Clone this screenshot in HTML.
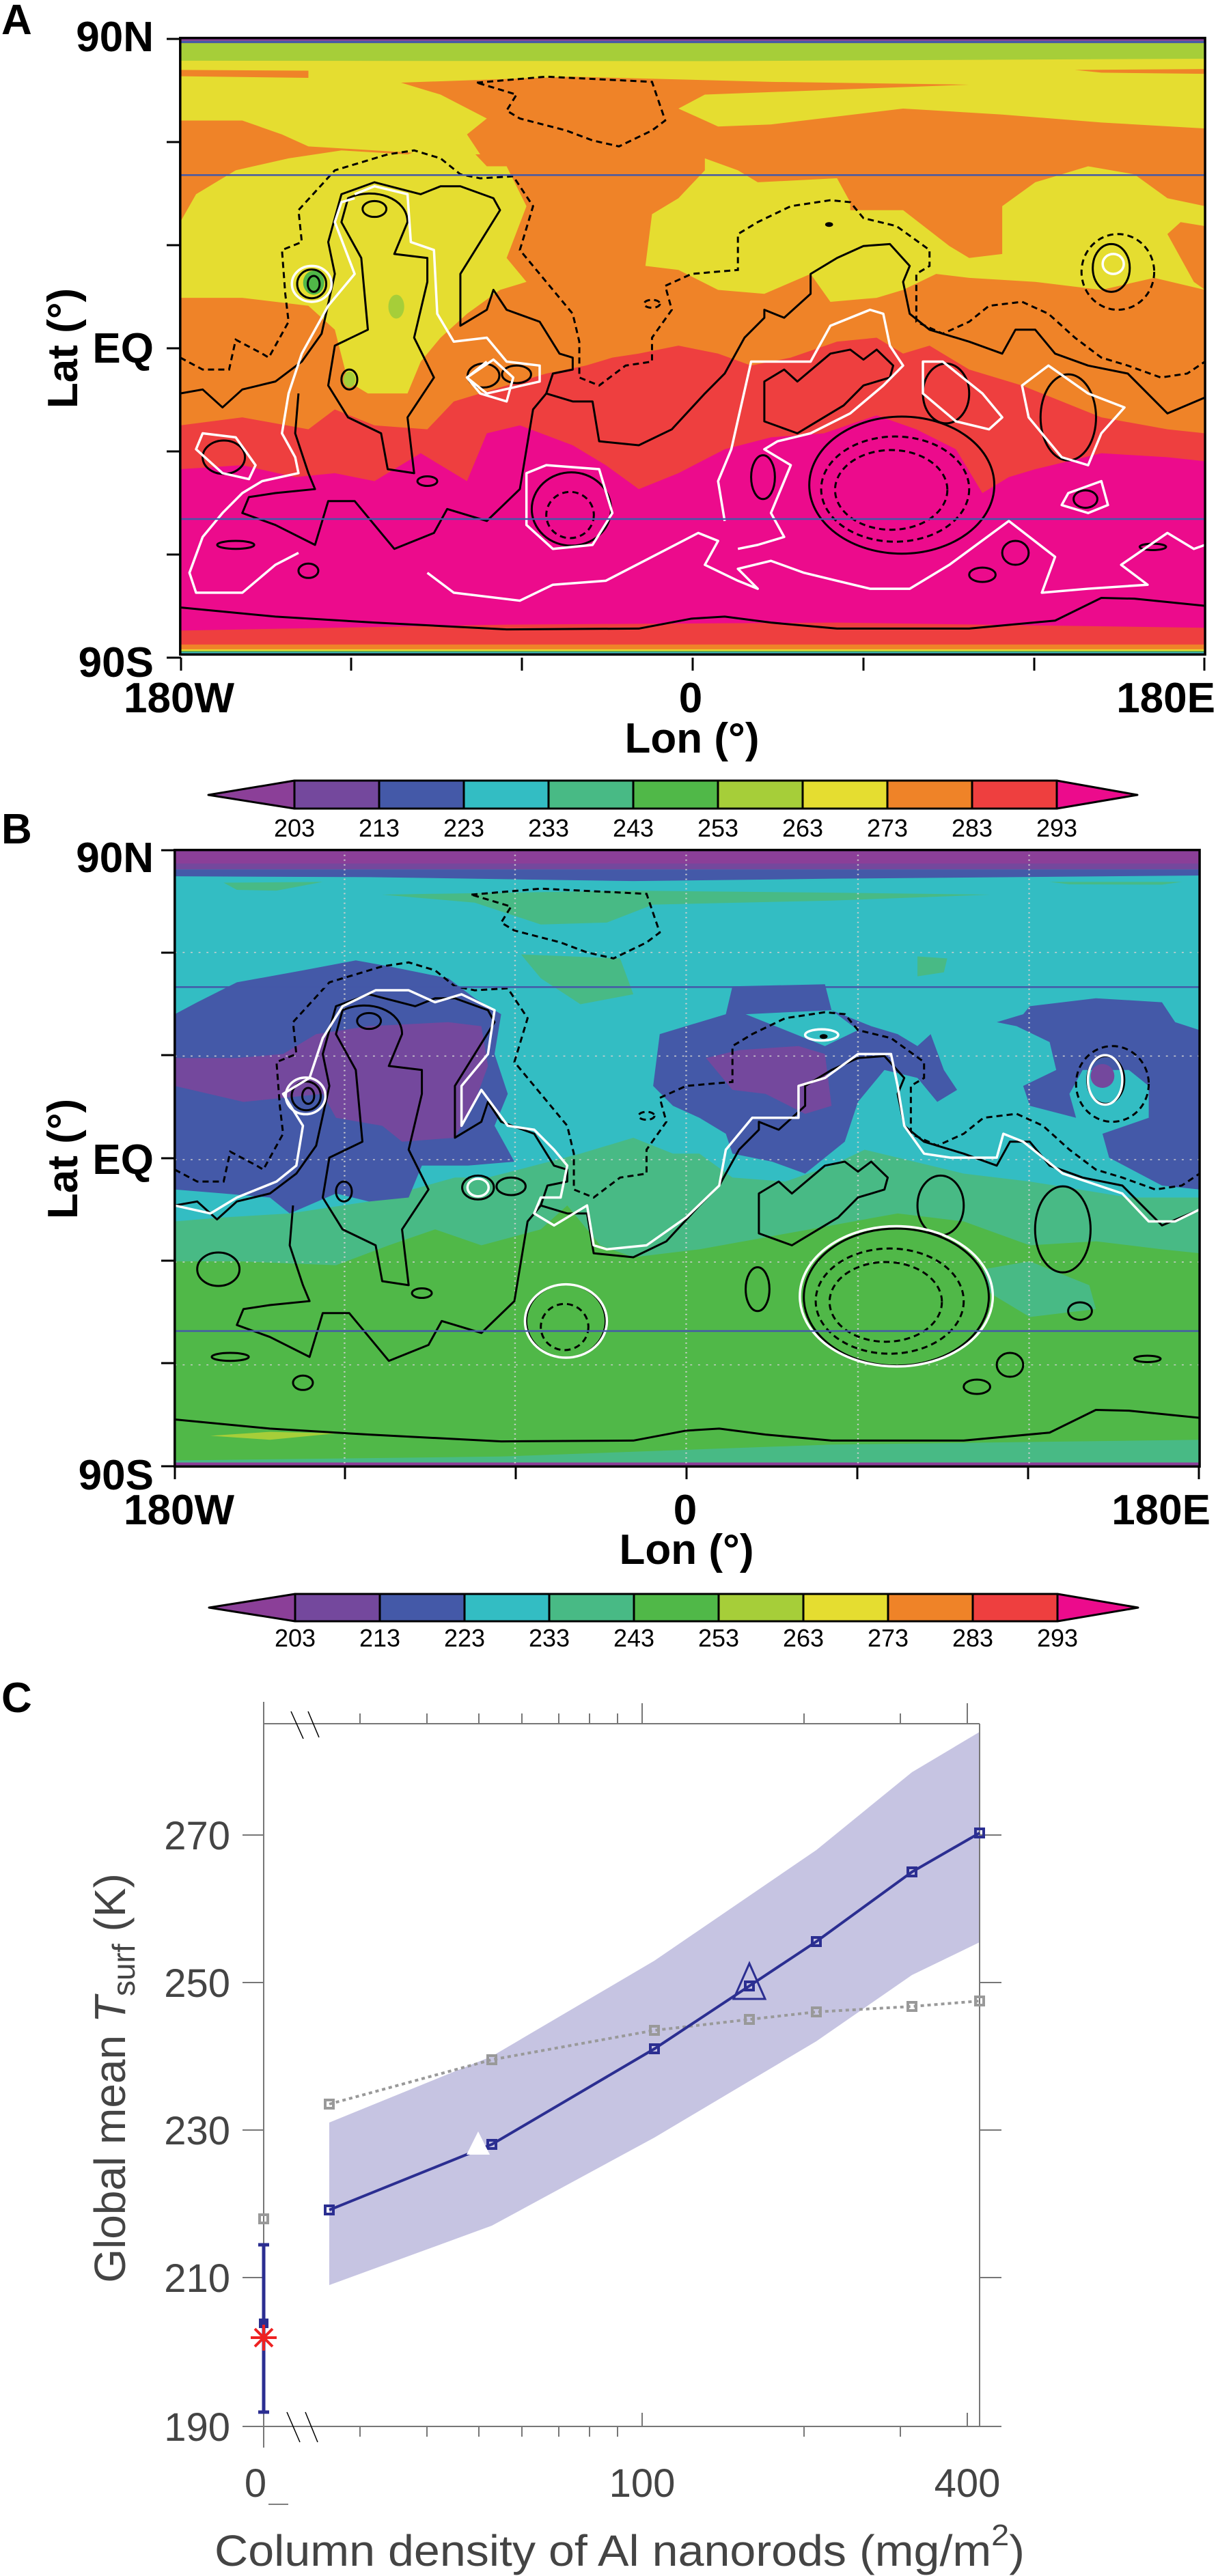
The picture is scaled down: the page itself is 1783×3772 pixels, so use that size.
<!DOCTYPE html>
<html><head><meta charset="utf-8"><style>
html,body{margin:0;padding:0;background:#fff;}
svg{display:block;}
.lbl{font-family:"Liberation Sans",sans-serif;font-weight:bold;fill:#000;}
.cb{font-family:"Liberation Sans",sans-serif;font-size:36px;fill:#000;}
.ax{font-family:"Liberation Sans",sans-serif;fill:#444;}
.k{fill:none;stroke:#000;stroke-width:3;vector-effect:non-scaling-stroke;stroke-linejoin:round;}
.kd{fill:none;stroke:#000;stroke-width:3;stroke-dasharray:9 6;vector-effect:non-scaling-stroke;}
.w{fill:none;stroke:#fff;stroke-width:3.5;vector-effect:non-scaling-stroke;stroke-linejoin:round;}
.lat{stroke:#4459A8;stroke-width:2.5;vector-effect:non-scaling-stroke;}
.grid{stroke:#d0d0d0;stroke-width:2.5;stroke-dasharray:3 9;vector-effect:non-scaling-stroke;}
.fr{fill:none;stroke:#000;stroke-width:3.5;vector-effect:non-scaling-stroke;}
</style></head><body>
<svg width="1783" height="3772" viewBox="0 0 1783 3772" xmlns="http://www.w3.org/2000/svg">
<defs>
<g id="topo">
<path class="k" d="M6,1437 L150,1460 300,1475 500,1492 700,1490 780,1465 830,1460 900,1475 1000,1490 1200,1490 1330,1470 1400,1413 1450,1415 1557,1433"/>
<path class="k" d="M6,900 L40,890 70,935 100,890 150,870 190,820 220,750 240,600 230,520 250,400 300,370 370,400 400,380 430,380 480,410 490,440 460,520 430,600 430,730 470,690 480,640 500,690 550,720 580,800 600,810 600,840 570,850 560,900 600,920 630,920 640,1020 700,1030 750,990 800,900 830,850 860,760 890,710 890,690 920,710 960,650 960,600 1000,560 1040,530 1080,525 1110,580 1100,620 1110,700 1140,740 1200,770 1250,800 1270,740 1300,740 1330,800 1380,830 1440,850 1500,950 1557,910"/>
<path class="k" d="M260,410 C300,380 350,410 350,470 L330,550 380,560 380,620 360,760 390,860 350,960 360,1100 320,1090 310,1000 260,960 230,880 240,780 290,740 280,560 250,470 Z"/>
<path class="k" d="M185,900 L180,1000 200,1100 210,1140 150,1150 110,1160 100,1200 150,1230 210,1280 230,1170 270,1170 330,1290 390,1250 410,1190 470,1220 520,1140 530,1040 540,940 560,900"/>
<path class="k" d="M890,870 L920,840 940,870 990,800 1020,790 1040,815 1060,790 1085,830 1080,860 1040,880 1010,930 960,980 940,1000 890,970 Z"/>
<ellipse class="k" cx="300" cy="437" rx="18" ry="20"/>
<ellipse class="k" cx="205" cy="625" rx="22" ry="36"/>
<ellipse class="k" cx="208" cy="625" rx="9" ry="20"/>
<ellipse class="k" cx="262" cy="865" rx="12" ry="25"/>
<ellipse class="k" cx="380" cy="1120" rx="15" ry="12"/>
<ellipse class="k" cx="90" cy="1280" rx="28" ry="10"/>
<ellipse class="k" cx="200" cy="1345" rx="15" ry="18"/>
<ellipse class="k" cx="72" cy="1060" rx="32" ry="42"/>
<ellipse class="k" cx="465" cy="855" rx="24" ry="30"/>
<ellipse class="k" cx="515" cy="852" rx="22" ry="22"/>
<ellipse class="k" cx="1098" cy="1130" rx="140" ry="172"/>
<ellipse class="kd" cx="1088" cy="1140" rx="112" ry="132"/>
<ellipse class="kd" cx="1082" cy="1142" rx="85" ry="100"/>
<ellipse class="k" cx="598" cy="1190" rx="60" ry="92"/>
<ellipse class="kd" cx="596" cy="1205" rx="36" ry="58"/>
<ellipse class="k" cx="888" cy="1110" rx="18" ry="55"/>
<ellipse class="k" cx="1165" cy="900" rx="35" ry="75"/>
<ellipse class="k" cx="1350" cy="960" rx="42" ry="108"/>
<ellipse class="k" cx="1376" cy="1165" rx="18" ry="22"/>
<ellipse class="k" cx="1270" cy="1300" rx="20" ry="30"/>
<ellipse class="k" cx="1220" cy="1355" rx="20" ry="18"/>
<ellipse class="k" cx="1478" cy="1285" rx="20" ry="8"/>
<ellipse class="k" cx="1415" cy="585" rx="28" ry="60"/>
<ellipse class="kd" cx="1425" cy="595" rx="55" ry="95"/>
<ellipse class="kd" cx="720" cy="675" rx="12" ry="10"/>
<ellipse cx="988" cy="476" rx="6" ry="6" fill="#000"/>
<path class="kd" d="M455,120 L560,105 720,118 740,215 720,240 670,280 630,265 590,240 520,210 500,190 515,150 Z"/>
<path class="kd" d="M6,810 L40,840 80,840 90,765 130,800 140,810 170,720 165,650 160,540 190,520 185,440 240,340 320,300 360,290 400,310 430,350 460,360 510,355 540,430 520,540 550,600 580,660 600,700 610,770 610,860 640,880 680,830 720,820 720,760 750,690 740,630 780,600 850,590 850,500 880,470 930,430 990,415 1020,420 1040,460 1090,480 1140,540 1140,580 1120,600 1120,720 1160,750 1200,720 1230,680 1280,670 1320,700 1360,760 1400,810 1440,830 1490,860 1530,850 1557,820"/>
</g>
</defs>

<!-- ================= PANEL A ================= -->
<text class="lbl" x="2" y="50" font-size="62">A</text>
<text class="lbl" x="225" y="75" font-size="62" text-anchor="end">90N</text>
<text class="lbl" x="225" y="531" font-size="62" text-anchor="end">EQ</text>
<text class="lbl" x="225" y="991" font-size="62" text-anchor="end">90S</text>
<text class="lbl" font-size="62" text-anchor="middle" transform="translate(113,510) rotate(-90)">Lat (°)</text>
<text class="lbl" x="262" y="1043" font-size="62" text-anchor="middle">180W</text>
<text class="lbl" x="1011" y="1043" font-size="62" text-anchor="middle">0</text>
<text class="lbl" x="1779" y="1043" font-size="62" text-anchor="end">180E</text>
<text class="lbl" x="1013" y="1102" font-size="62" text-anchor="middle">Lon (°)</text>
<g stroke="#000" stroke-width="3">
<line x1="244" y1="57" x2="265" y2="57"/><line x1="244" y1="208" x2="265" y2="208"/><line x1="244" y1="359" x2="265" y2="359"/><line x1="244" y1="510" x2="265" y2="510"/><line x1="244" y1="661" x2="265" y2="661"/><line x1="244" y1="812" x2="265" y2="812"/><line x1="244" y1="963" x2="265" y2="963"/>
<line x1="265" y1="963" x2="265" y2="982"/><line x1="514" y1="963" x2="514" y2="982"/><line x1="764" y1="963" x2="764" y2="982"/><line x1="1014" y1="963" x2="1014" y2="982"/><line x1="1264" y1="963" x2="1264" y2="982"/><line x1="1514" y1="963" x2="1514" y2="982"/><line x1="1763" y1="963" x2="1763" y2="982"/>
</g>
<g transform="translate(258,51) scale(0.9673,0.5835)">
<rect x="6" y="8" width="1551" height="1547" fill="#EC0B8C"/>
<path fill="#EE3F3F" d="M6,8 H1557 V1070 L1500,1060 1400,1050 1300,1090 1260,1110 1220,1150 1180,1040 1120,990 1060,955 980,1000 900,1010 830,1040 760,1100 700,1140 650,1080 600,1030 520,980 470,1000 440,1120 370,1050 300,1120 240,1100 180,1110 100,1080 6,1090 Z"/>
<path fill="#EF8328" d="M6,8 H1557 V1000 L1500,990 1400,960 1280,880 1200,840 1140,780 1100,800 1060,760 1000,770 930,810 870,830 820,800 760,780 700,800 660,810 620,830 560,850 500,880 420,920 380,990 300,980 240,940 200,990 100,960 6,980 Z"/>
<path fill="#E5DD30" d="M6,60 L1557,60 1557,235 1400,220 1250,200 1100,185 900,225 820,230 760,185 800,150 1200,125 900,118 600,105 340,120 400,150 470,210 440,250 460,300 400,300 300,290 200,280 160,250 100,215 6,215 Z"/>
<path fill="#EF8328" d="M6,88 L200,90 200,108 6,104 Z M1360,88 L1557,86 1557,98 1400,95 Z"/>
<path fill="#E5DD30" d="M6,470 L30,400 90,340 170,310 250,290 350,300 430,260 470,330 500,330 530,430 500,560 530,620 490,640 440,700 400,760 370,820 350,900 290,900 260,870 240,740 200,680 100,660 6,660 Z"/>
<path fill="#E5DD30" d="M710,580 L720,450 760,410 800,340 800,310 850,340 880,370 1000,360 1020,420 1020,440 1100,440 1170,530 1200,560 1250,550 1250,430 1300,370 1380,330 1450,350 1500,410 1557,430 1557,480 1520,470 1500,500 1540,620 1557,640 1480,610 1400,640 1300,620 1200,610 1150,600 1100,640 1060,660 990,670 960,600 890,650 820,640 760,590 Z"/>
<rect x="6" y="8" width="1551" height="7" fill="#8B3F98"/>
<rect x="6" y="15" width="1551" height="6" fill="#4459A8"/>
<path fill="#A6CE39" d="M6,21 H1557 V60 L800,66 6,65 Z"/>
<path fill="#EE3F3F" d="M6,1495 L500,1480 1000,1475 1557,1488 V1548 H6 Z"/>
<rect x="6" y="1530" width="1551" height="12" fill="#EF8328"/>
<rect x="6" y="1542" width="1551" height="4" fill="#E5DD30"/>
<rect x="6" y="1546" width="1551" height="3" fill="#50B848"/>
<rect x="6" y="1549" width="1551" height="3" fill="#33BDC3"/>
<rect x="6" y="1552" width="1551" height="3" fill="#8B3F98"/>
<ellipse cx="208" cy="622" rx="16" ry="30" fill="#50B848"/>
<ellipse cx="333" cy="682" rx="12" ry="30" fill="#A6CE39"/>
<ellipse cx="262" cy="865" rx="9" ry="20" fill="#A6CE39"/>
<use href="#topo"/>
<ellipse class="w" cx="205" cy="625" rx="30" ry="45"/>
<ellipse class="w" cx="1418" cy="575" rx="16" ry="25"/>
<path class="w" d="M270,410 L250,420 240,470 270,600 230,680 210,740 190,800 170,900 160,1000 180,1060 185,1100 130,1120 100,1150 70,1200 40,1260 20,1350 30,1400 100,1400 150,1330 185,1300"/>
<path class="w" d="M270,400 L300,380 350,400 355,520 390,540 395,700 420,770 470,760 500,820 550,830 550,870 510,885 470,900 440,860 470,820"/>
<path class="w" d="M830,1220 L820,1120 840,1040 870,820 960,820 990,730 1050,690 1070,700 1080,780 1100,830 1070,880 1020,950 960,1000 910,1020 890,1040 930,1080 900,1200 920,1260 880,1280 850,1290"/>
<path class="w" d="M380,1350 L420,1400 520,1420 570,1380 650,1370 720,1310 790,1250 820,1270 800,1330 850,1370 880,1390 850,1340 900,1320 950,1350 1000,1370 1050,1390 1110,1390 1170,1330 1260,1220 1330,1310 1310,1400 1380,1390 1470,1380 1430,1330 1500,1250 1540,1290 1557,1280"/>
<path class="w" d="M1130,820 L1160,820 1220,900 1250,960 1230,990 1180,970 1130,900 Z"/>
<path class="w" d="M1280,880 L1320,830 1380,900 1435,935 1400,1000 1380,1080 1340,1060 1290,960 Z"/>
<path class="w" d="M440,860 L480,815 510,860 500,920 460,900 Z"/>
<path class="w" d="M40,1000 L90,1010 120,1080 110,1115 70,1100 30,1040 Z"/>
<path class="w" d="M1350,1150 L1400,1120 1410,1180 1380,1200 1340,1180 Z"/>
<path class="w" d="M530,1100 L560,1080 640,1090 660,1200 630,1280 570,1290 530,1230 Z"/>
<line class="lat" x1="6" y1="352" x2="1557" y2="352"/>
<line class="lat" x1="6" y1="1215" x2="1557" y2="1215"/>
<rect class="fr" x="6" y="8" width="1551" height="1547"/>
</g>

<!-- colorbar 1 -->
<g stroke="#000" stroke-width="3" stroke-linejoin="round">
<polygon points="431,1143 305,1164 431,1184" fill="#8B3F98"/>
<rect x="431" y="1143" width="124" height="41" fill="#74489D"/>
<rect x="555" y="1143" width="124" height="41" fill="#4459A8"/>
<rect x="679" y="1143" width="124" height="41" fill="#33BDC3"/>
<rect x="803" y="1143" width="124" height="41" fill="#48BA85"/>
<rect x="927" y="1143" width="124" height="41" fill="#50B848"/>
<rect x="1051" y="1143" width="124" height="41" fill="#A6CE39"/>
<rect x="1175" y="1143" width="124" height="41" fill="#E5DD30"/>
<rect x="1299" y="1143" width="124" height="41" fill="#EF8328"/>
<rect x="1423" y="1143" width="124" height="41" fill="#EE3F3F"/>
<polygon points="1547,1143 1665,1164 1547,1184" fill="#EC0B8C"/>
</g>
<g class="cb" text-anchor="middle">
<text x="431" y="1225">203</text><text x="555" y="1225">213</text><text x="679" y="1225">223</text><text x="803" y="1225">233</text><text x="927" y="1225">243</text><text x="1051" y="1225">253</text><text x="1175" y="1225">263</text><text x="1299" y="1225">273</text><text x="1423" y="1225">283</text><text x="1547" y="1225">293</text>
</g>

<!-- ================= PANEL B ================= -->
<text class="lbl" x="2" y="1235" font-size="62">B</text>
<text class="lbl" x="225" y="1277" font-size="62" text-anchor="end">90N</text>
<text class="lbl" x="225" y="1719" font-size="62" text-anchor="end">EQ</text>
<text class="lbl" x="225" y="2181" font-size="62" text-anchor="end">90S</text>
<text class="lbl" font-size="62" text-anchor="middle" transform="translate(113,1697) rotate(-90)">Lat (°)</text>
<text class="lbl" x="262" y="2232" font-size="62" text-anchor="middle">180W</text>
<text class="lbl" x="1003" y="2232" font-size="62" text-anchor="middle">0</text>
<text class="lbl" x="1772" y="2232" font-size="62" text-anchor="end">180E</text>
<text class="lbl" x="1005" y="2290" font-size="62" text-anchor="middle">Lon (°)</text>
<g stroke="#000" stroke-width="3">
<line x1="236" y1="1245" x2="257" y2="1245"/><line x1="236" y1="1395" x2="257" y2="1395"/><line x1="236" y1="1545" x2="257" y2="1545"/><line x1="236" y1="1696" x2="257" y2="1696"/><line x1="236" y1="1846" x2="257" y2="1846"/><line x1="236" y1="1996" x2="257" y2="1996"/><line x1="236" y1="2147" x2="257" y2="2147"/>
<line x1="256" y1="2147" x2="256" y2="2166"/><line x1="505" y1="2147" x2="505" y2="2166"/><line x1="755" y1="2147" x2="755" y2="2166"/><line x1="1005" y1="2147" x2="1005" y2="2166"/><line x1="1255" y1="2147" x2="1255" y2="2166"/><line x1="1505" y1="2147" x2="1505" y2="2166"/><line x1="1755" y1="2147" x2="1755" y2="2166"/>
</g>
<g transform="translate(250,1240) scale(0.9673,0.5835)">
<rect x="6" y="8" width="1551" height="1547" fill="#50B848"/>
<path fill="#48BA85" d="M6,8 H1557 V1020 L1500,1010 1400,990 1300,1000 1200,940 1100,920 1000,950 900,980 800,1010 700,1030 650,1000 600,900 560,960 470,1000 400,960 330,1000 250,1050 100,1040 6,1040 Z"/>
<path fill="#33BDC3" d="M6,8 H1557 V880 L1450,880 1300,840 1200,820 1100,780 1050,760 1000,800 930,840 850,830 800,770 760,770 700,730 620,770 550,800 480,830 430,830 300,890 180,920 80,930 6,940 Z"/>
<path fill="#4459A8" d="M6,420 L40,390 100,340 200,310 280,285 330,300 420,330 460,380 500,420 490,520 510,620 490,700 520,790 450,800 380,800 360,880 300,890 250,870 180,920 150,880 80,870 6,860 Z"/>
<path fill="#4459A8" d="M730,600 L740,470 840,420 850,350 990,345 1000,410 1060,450 1100,470 1130,500 1150,470 1170,560 1190,610 1160,640 1130,580 1080,560 1040,640 1020,740 960,820 910,790 850,770 840,720 800,680 760,650 Z"/>
<path fill="#4459A8" d="M1250,440 L1290,420 1300,400 1400,380 1500,390 1520,440 1557,460 1557,860 1500,850 1420,780 1410,720 1480,680 1480,600 1450,560 1380,560 1360,620 1370,680 1300,650 1290,600 1340,560 1330,490 1280,450 Z"/>
<path fill="#33BDC3" d="M870,420 L1000,410 1040,460 990,500 900,440 Z"/>
<path fill="#74489D" d="M6,530 L100,530 170,520 220,470 300,450 420,440 470,450 480,550 460,640 430,730 350,740 320,700 250,680 230,620 110,640 6,600 Z"/>
<path fill="#74489D" d="M810,530 L860,510 950,500 990,520 1000,650 960,670 900,620 850,610 Z"/>
<ellipse cx="1410" cy="575" rx="18" ry="30" fill="#74489D"/>
<path fill="#48BA85" d="M80,90 L230,88 160,110 100,108 Z M320,120 L700,110 1000,115 1240,120 1000,135 730,145 660,190 560,195 460,140 Z M530,270 L680,280 700,370 620,395 560,330 Z M1130,275 L1175,280 1170,315 1130,325 Z M1330,88 L1530,88 1500,95 1360,94 Z M1230,1060 L1300,1040 1390,1100 1400,1160 1300,1180 1240,1120 Z"/>
<rect x="6" y="8" width="1551" height="34" fill="#8B3F98"/>
<rect x="6" y="42" width="1551" height="15" fill="#74489D"/>
<path fill="#4459A8" d="M6,57 H1557 V72 L1000,80 700,86 300,76 6,74 Z"/>
<path fill="#48BA85" d="M6,1540 L500,1530 1000,1500 1557,1488 V1548 H6 Z"/>
<path fill="#A6CE39" d="M60,1478 L150,1468 250,1472 150,1488 Z"/>
<rect x="6" y="1545" width="1551" height="10" fill="#8B3F98"/>
<g class="grid">
<line x1="6" y1="265" x2="1557" y2="265"/><line x1="6" y1="525" x2="1557" y2="525"/><line x1="6" y1="785" x2="1557" y2="785"/><line x1="6" y1="1042" x2="1557" y2="1042"/><line x1="6" y1="1300" x2="1557" y2="1300"/>
<line x1="263" y1="8" x2="263" y2="1555"/><line x1="521" y1="8" x2="521" y2="1555"/><line x1="780" y1="8" x2="780" y2="1555"/><line x1="1040" y1="8" x2="1040" y2="1555"/><line x1="1299" y1="8" x2="1299" y2="1555"/>
</g>
<use href="#topo"/>
<path class="w" d="M6,900 L60,920 100,880 160,840 190,800 200,700 170,620 210,580 230,480 260,400 310,360 360,360 400,390 440,370 490,410 480,520 440,600 440,700 470,610 510,700 550,710 580,760 600,800 590,880 560,880 550,920 580,950 630,900 640,1000 660,1010 720,1000 780,930 830,850 840,760 880,680 950,680 950,600 990,580 1040,520 1090,520 1100,600 1110,700 1140,770 1180,780 1250,780 1260,720 1290,740 1350,820 1440,870 1480,940 1520,940 1557,910"/>
<ellipse class="w" cx="1098" cy="1128" rx="146" ry="176"/>
<ellipse class="w" cx="598" cy="1190" rx="62" ry="92"/>
<ellipse class="w" cx="1414" cy="585" rx="26" ry="62"/>
<ellipse class="w" cx="985" cy="472" rx="25" ry="14"/>
<ellipse class="w" cx="204" cy="625" rx="30" ry="46"/>
<ellipse class="w" cx="465" cy="855" rx="16" ry="22"/>
<line class="lat" x1="6" y1="352" x2="1557" y2="352"/>
<line class="lat" x1="6" y1="1215" x2="1557" y2="1215"/>
<rect class="fr" x="6" y="8" width="1551" height="1547"/>
</g>

<!-- colorbar 2 -->
<g stroke="#000" stroke-width="3" stroke-linejoin="round">
<polygon points="432,2334 306,2354 432,2374" fill="#8B3F98"/>
<rect x="432" y="2334" width="124" height="40" fill="#74489D"/>
<rect x="556" y="2334" width="124" height="40" fill="#4459A8"/>
<rect x="680" y="2334" width="124" height="40" fill="#33BDC3"/>
<rect x="804" y="2334" width="124" height="40" fill="#48BA85"/>
<rect x="928" y="2334" width="124" height="40" fill="#50B848"/>
<rect x="1052" y="2334" width="124" height="40" fill="#A6CE39"/>
<rect x="1176" y="2334" width="124" height="40" fill="#E5DD30"/>
<rect x="1300" y="2334" width="124" height="40" fill="#EF8328"/>
<rect x="1424" y="2334" width="124" height="40" fill="#EE3F3F"/>
<polygon points="1548,2334 1666,2354 1548,2374" fill="#EC0B8C"/>
</g>
<g class="cb" text-anchor="middle">
<text x="432" y="2411">203</text><text x="556" y="2411">213</text><text x="680" y="2411">223</text><text x="804" y="2411">233</text><text x="928" y="2411">243</text><text x="1052" y="2411">253</text><text x="1176" y="2411">263</text><text x="1300" y="2411">273</text><text x="1424" y="2411">283</text><text x="1548" y="2411">293</text>
</g>

<!-- ================= PANEL C ================= -->
<text class="lbl" x="2" y="2507" font-size="62">C</text>
<polygon fill="#C6C4E2" points="482,3108 720,3011 958,2871 1195,2709 1335,2595 1434,2536 1434,2844 1335,2892 1195,2989 958,3130 720,3259 482,3346"/>
<g stroke="#777" stroke-width="2" fill="none">
<line x1="386" y1="2492" x2="386" y2="3584"/>
<line x1="386" y1="2524" x2="1434" y2="2524"/>
<line x1="1434" y1="2524" x2="1434" y2="3553"/>
<line x1="355" y1="3553" x2="1466" y2="3553"/>
<line x1="355" y1="2687" x2="386" y2="2687"/><line x1="355" y1="2903" x2="386" y2="2903"/><line x1="355" y1="3119" x2="386" y2="3119"/><line x1="355" y1="3335" x2="386" y2="3335"/>
<line x1="1434" y1="2687" x2="1466" y2="2687"/><line x1="1434" y1="2903" x2="1466" y2="2903"/><line x1="1434" y1="3119" x2="1466" y2="3119"/><line x1="1434" y1="3335" x2="1466" y2="3335"/>
<path d="M527,2524v-15M625,2524v-15M701,2524v-15M764,2524v-15M818,2524v-15M863,2524v-15M904,2524v-15M940,2524v-30M1177,2524v-15M1318,2524v-15M1416,2524v-30"/>
<path d="M527,3553v15M625,3553v15M701,3553v15M764,3553v15M818,3553v15M863,3553v15M904,3553v15M940,3553v-20M1177,3553v15M1318,3553v15M1416,3553v-20"/>
</g>
<g stroke="#000" stroke-width="1.5">
<line x1="426" y1="2506" x2="444" y2="2546"/><line x1="451" y1="2506" x2="467" y2="2544"/>
<line x1="420" y1="3532" x2="439" y2="3576"/><line x1="447" y1="3532" x2="465" y2="3576"/>
</g>
<line x1="393" y1="3667" x2="422" y2="3667" stroke="#555" stroke-width="1.5"/>
<polyline fill="none" stroke="#999" stroke-width="4" stroke-dasharray="5 5" points="482,3081 720,3016 958,2973 1097,2957 1195,2946 1335,2938 1434,2930"/>
<g fill="none" stroke="#999" stroke-width="4">
<rect x="476" y="3075" width="12" height="12"/><rect x="714" y="3010" width="12" height="12"/><rect x="952" y="2967" width="12" height="12"/><rect x="1091" y="2951" width="12" height="12"/><rect x="1189" y="2940" width="12" height="12"/><rect x="1329" y="2932" width="12" height="12"/><rect x="1428" y="2924" width="12" height="12"/>
<rect x="380" y="3243" width="12" height="12"/>
</g>
<polyline fill="none" stroke="#2B2E91" stroke-width="4" points="482,3236 720,3140 958,3000 1097,2908 1195,2843 1335,2741 1434,2684"/>
<g fill="none" stroke="#2B2E91" stroke-width="4">
<rect x="476" y="3230" width="12" height="12"/><rect x="714" y="3134" width="12" height="12"/><rect x="952" y="2994" width="12" height="12"/><rect x="1091" y="2902" width="12" height="12"/><rect x="1189" y="2837" width="12" height="12"/><rect x="1329" y="2735" width="12" height="12"/><rect x="1428" y="2678" width="12" height="12"/>
</g>
<polygon points="1097,2875 1074,2927 1120,2927" fill="none" stroke="#2B2E91" stroke-width="3"/>
<polygon points="700,3121 683,3155 717,3155" fill="#fff"/>
<g stroke="#2B2E91" stroke-width="5">
<line x1="386" y1="3287" x2="386" y2="3532"/>
<line x1="378" y1="3287" x2="394" y2="3287"/><line x1="378" y1="3532" x2="394" y2="3532"/>
</g>
<rect x="379" y="3395" width="14" height="14" fill="#2B2E91"/>
<g stroke="#EE2222" stroke-width="4">
<line x1="367" y1="3423" x2="405" y2="3423"/><line x1="386" y1="3404" x2="386" y2="3442"/><line x1="373" y1="3410" x2="399" y2="3436"/><line x1="373" y1="3436" x2="399" y2="3410"/>
</g>
<g class="ax" font-size="58" text-anchor="end">
<text x="337" y="2708">270</text><text x="337" y="2924">250</text><text x="337" y="3140">230</text><text x="337" y="3356">210</text><text x="337" y="3574">190</text>
</g>
<g class="ax" font-size="58" text-anchor="middle">
<text x="374" y="3656">0</text><text x="940" y="3656">100</text><text x="1416" y="3656">400</text>
</g>
<text class="ax" x="314" y="3757" font-size="64" textLength="1186" lengthAdjust="spacingAndGlyphs">Column density of Al nanorods (mg/m<tspan dy="-30" font-size="44">2</tspan><tspan dy="30">)</tspan></text>
<text class="ax" font-size="64" text-anchor="middle" transform="translate(183,3043) rotate(-90)">Global mean <tspan font-style="italic">T</tspan><tspan font-size="46" dy="14">surf</tspan><tspan dy="-14"> (K)</tspan></text>
</svg>
</body></html>
